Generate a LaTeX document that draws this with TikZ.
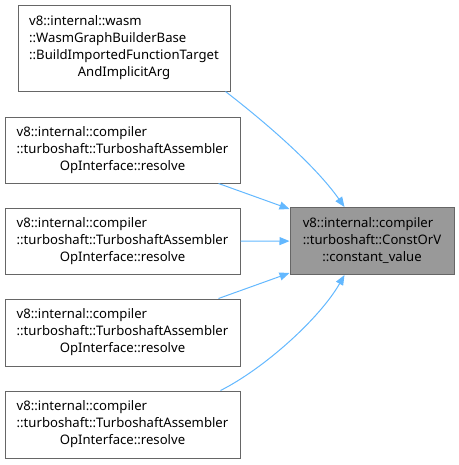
\documentclass[tikz,border=0pt]{standalone}
\usepackage{fontspec}
\setmainfont{Noto Sans}
\usetikzlibrary{arrows.meta,calc}
\definecolor{edgeblue}{HTML}{63B8FF}
\definecolor{boxborder}{HTML}{666666}
\definecolor{targetfill}{HTML}{999999}
\begin{document}
\begin{tikzpicture}[x=0.75pt,y=-0.75pt,
  box/.style={draw=boxborder,line width=0.75pt,fill=white,inner sep=0pt,
    font=\fontsize{9.85}{12.75}\selectfont},
  edge/.style={draw=edgeblue,line width=0.75pt,-{Triangle[length=7.5pt,width=6pt]}}]
\useasboundingbox (0,0) rectangle (458,465);
\def\lines#1#2{\begin{tabular}{@{}l@{}}#1\\\multicolumn{1}{@{}c@{}}{#2}\end{tabular}}
\node[box,minimum width=212*0.75pt,minimum height=86*0.75pt] (b1) at (124,48)
  {\lines{v8::internal::wasm\\::WasmGraphBuilderBase\\::BuildImportedFunctionTarget}{AndImplicitArg}};
\node[box,minimum width=235*0.75pt,minimum height=66*0.75pt] (b2) at (122.5,150)
  {\lines{v8::internal::compiler\\::turboshaft::TurboshaftAssembler}{OpInterface::resolve}};
\node[box,minimum width=235*0.75pt,minimum height=66*0.75pt] (b3) at (122.5,241)
  {\lines{v8::internal::compiler\\::turboshaft::TurboshaftAssembler}{OpInterface::resolve}};
\node[box,minimum width=235*0.75pt,minimum height=67*0.75pt] (b4) at (122.5,332.5)
  {\lines{v8::internal::compiler\\::turboshaft::TurboshaftAssembler}{OpInterface::resolve}};
\node[box,minimum width=235*0.75pt,minimum height=67*0.75pt] (b5) at (122.5,424.5)
  {\lines{v8::internal::compiler\\::turboshaft::TurboshaftAssembler}{OpInterface::resolve}};
\node[box,fill=targetfill,minimum width=164*0.75pt,minimum height=67*0.75pt] (t) at (372,241)
  {\lines{v8::internal::compiler\\::turboshaft::ConstOrV}{::constant\_value}};
\draw[edge] ($(b1.south east)+(-5,0)$) .. controls (265,122) and (315,165) .. ($(t.north west)+(55,0)$);
\draw[edge] ($(b2.south east)+(-22,0)$) -- ($(t.north west)+(0,2)$);
\draw[edge] (b3.east) -- ($(t.west)+(0,0.1)$);
\draw[edge] ($(b4.north east)+(-22,0)$) -- ($(t.south west)+(0,-2)$);
\draw[edge] ($(b5.north east)+(-20,0)$) .. controls (265,368) and (320,318) .. ($(t.south west)+(55,0)$);
\end{tikzpicture}
\end{document}
